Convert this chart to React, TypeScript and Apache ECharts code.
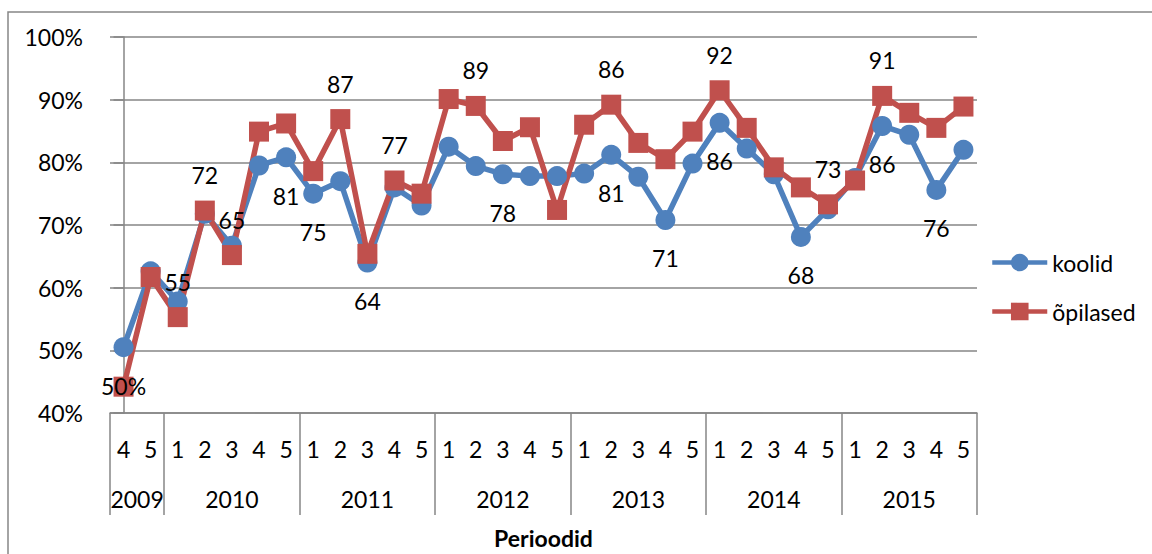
import React, { useEffect, useRef } from "react";
import * as echarts from "echarts";

const periods = [
  "4", "5",
  "1", "2", "3", "4", "5",
  "1", "2", "3", "4", "5",
  "1", "2", "3", "4", "5",
  "1", "2", "3", "4", "5",
  "1", "2", "3", "4", "5",
  "1", "2", "3", "4", "5",
];
const years = ["2009", "2010", "2011", "2012", "2013", "2014", "2015"];
const yearCenters = [0.5, 4, 9, 14, 19, 24, 29];
const yearBounds = [-0.5, 1.5, 6.5, 11.5, 16.5, 21.5, 26.5, 31.5];

const koolid = [
  50.5, 62.6,
  57.8, 71.8, 66.7, 79.5, 80.8,
  75.0, 77.0, 64.0, 76.0, 73.1,
  82.5, 79.4, 78.1, 77.8, 77.8,
  78.2, 81.2, 77.7, 70.8, 79.8,
  86.3, 82.2, 78.1, 68.1, 72.5,
  77.5, 85.8, 84.4, 75.6, 82.0,
];
const opilased = [
  44.2, 61.7,
  55.3, 72.3, 65.2, 84.9, 86.2,
  78.6, 86.9, 65.4, 77.1, 75.0,
  90.1, 89.0, 83.4, 85.6, 72.4,
  86.0, 89.2, 83.1, 80.5, 84.9,
  91.5, 85.5, 79.2, 76.0, 73.3,
  77.1, 90.6, 87.9, 85.5, 88.9,
];
const koolidLabels = [
  "50%", "",
  "", "", "", "", "81",
  "75", "", "64", "", "",
  "", "", "78", "", "",
  "", "81", "", "71", "",
  "86", "", "", "68", "",
  "", "86", "", "76", "",
];
const opilasedLabels = [
  "", "",
  "55", "72", "65", "", "",
  "", "87", "", "77", "",
  "", "89", "", "", "",
  "", "86", "", "", "",
  "92", "", "", "", "73",
  "", "91", "", "", "",
];

const FONT = "Lato, 'Open Sans', sans-serif";
const GRAY = "#868686";
const BLUE = "#4F81BD";
const RED = "#C0504D";

export default function App() {
  const ref = useRef<HTMLDivElement>(null);
  useEffect(() => {
    if (!ref.current) return;
    const chart = echarts.init(ref.current, undefined, { renderer: "svg" });
    const mk = (vals: number[], labs: string[]) =>
      vals.map((v, i) => ({
        value: v,
        label: labs[i] ? { show: true, formatter: labs[i] } : { show: false },
      }));
    chart.setOption({
      animation: false,
      backgroundColor: "#fff",
      textStyle: { fontFamily: FONT },
      graphic: [
        {
          type: "rect",
          shape: { x: 8, y: 12, width: 1200, height: 600 },
          style: { fill: "none", stroke: GRAY, lineWidth: 1.5 },
          silent: true,
        },
      ],
      grid: { left: 110, right: 175, top: 37, bottom: 139, containLabel: false },
      legend: {
        orient: "vertical",
        left: 985,
        top: 246,
        itemWidth: 55,
        itemHeight: 22,
        itemGap: 26,
        lineStyle: { width: 4.5 },
        textStyle: { fontSize: 23, color: "#000", fontFamily: FONT },
        data: ["koolid", "õpilased"],
      },
      xAxis: [
        {
          type: "category",
          data: periods,
          boundaryGap: true,
          position: "bottom",
          axisLine: { show: true, lineStyle: { color: GRAY, width: 1.5 } },
          axisTick: { show: false },
          axisLabel: { interval: 0, margin: 24, fontSize: 23, color: "#000", fontFamily: FONT },
          splitLine: { show: false },
          name: "Perioodid",
          nameLocation: "middle",
          nameGap: 113,
          nameTextStyle: { fontSize: 23, fontWeight: "bold", color: "#000", fontFamily: FONT },
        },
        {
          type: "value",
          min: -0.5,
          max: 31.5,
          interval: 0.5,
          position: "bottom",
          offset: 0,
          axisLine: { show: false },
          splitLine: { show: false },
          axisTick: {
            show: true,
            customValues: yearBounds,
            length: 102,
            lineStyle: { color: GRAY, width: 1.5 },
          },
          axisLabel: {
            customValues: yearCenters,
            margin: 74,
            fontSize: 23,
            color: "#000",
            fontFamily: FONT,
            formatter: (v: number) => {
              const k = yearCenters.indexOf(v);
              return k >= 0 ? years[k] : "";
            },
          },
        },
      ],
      yAxis: {
        type: "value",
        min: 40,
        max: 100,
        interval: 10,
        axisLine: { show: true, lineStyle: { color: GRAY, width: 1.5 } },
        axisTick: { show: true, length: 10, lineStyle: { color: GRAY, width: 1.5 } },
        axisLabel: { formatter: "{value}%", margin: 27, fontSize: 23, color: "#000", fontFamily: FONT },
        splitLine: { show: true, lineStyle: { color: GRAY, width: 1.5 } },
      },
      series: [
        {
          name: "koolid",
          type: "line",
          xAxisIndex: 0,
          data: mk(koolid, koolidLabels),
          symbol: "circle",
          symbolSize: 20,
          lineStyle: { color: BLUE, width: 5.5 },
          itemStyle: { color: BLUE },
          label: { position: "bottom", distance: 17, fontSize: 23, color: "#000", fontFamily: FONT },
        },
        {
          name: "õpilased",
          type: "line",
          xAxisIndex: 0,
          data: mk(opilased, opilasedLabels),
          symbol: "rect",
          symbolSize: 20,
          lineStyle: { color: RED, width: 5.5 },
          itemStyle: { color: RED },
          label: { position: "top", distance: 14, fontSize: 23, color: "#000", fontFamily: FONT },
        },
      ],
    });
    return () => chart.dispose();
  }, []);
  return (
    <div
      ref={ref}
      style={{ position: "absolute", left: 0, top: 0, width: 1152, height: 554 }}
    />
  );
}
